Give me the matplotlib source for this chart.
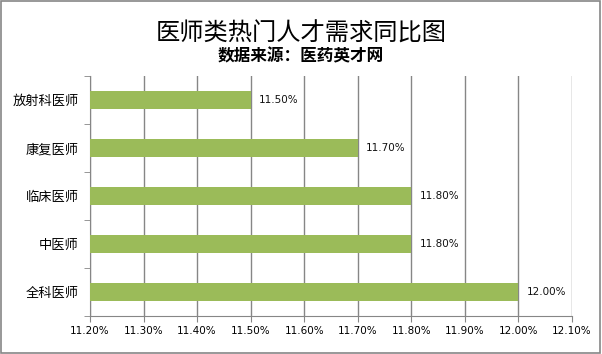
import matplotlib.pyplot as plt
from matplotlib.ticker import FixedLocator, PercentFormatter
from matplotlib.patches import Rectangle

plt.rcParams['font.family'] = ['Noto Sans CJK SC', 'DejaVu Sans']

categories = ["全科医师", "中医师", "临床医师", "康复医师", "放射科医师"]
values = [12.0, 11.8, 11.8, 11.7, 11.5]
xticks = [11.2, 11.3, 11.4, 11.5, 11.6, 11.7, 11.8, 11.9, 12.0, 12.1]

fig = plt.figure(figsize=(6.02, 3.54), dpi=100)
ax = fig.add_axes([0.1495, 0.107, 0.8005, 0.678])

pos = range(len(categories))
ax.barh(pos, [v - 11.2 for v in values], left=11.2, height=0.38,
        color="#9BBB59", zorder=3)
for p, v in zip(pos, values):
    ax.text(v + 0.016, p, f"{v:.2f}%", va="center", ha="left", fontsize=7.5,
            family="DejaVu Sans", color="#111111")

ax.set_xlim(11.2, 12.1)
ax.set_ylim(-0.5, len(categories) - 0.5)
ax.set_xticks(xticks)
ax.xaxis.set_major_formatter(PercentFormatter(decimals=2))
ax.set_yticks(list(pos))
ax.set_yticklabels(categories, fontsize=9.5)
ax.yaxis.set_minor_locator(FixedLocator([i - 0.5 for i in range(len(categories) + 1)]))
ax.tick_params(axis='y', which='major', length=0, pad=8)
ax.tick_params(axis='y', which='minor', length=4, color="#868686")
ax.tick_params(axis='x', length=4, color="#868686", labelsize=7.5, pad=3)
for lbl in ax.get_xticklabels():
    lbl.set_family("DejaVu Sans")

ax.grid(axis='x', color="#868686", linewidth=1, zorder=0)
for side in ["top", "right"]:
    ax.spines[side].set_visible(False)
for side in ["left", "bottom"]:
    ax.spines[side].set_color("#868686")

fig.text(0.5, 0.905, "医师类热门人才需求同比图", ha="center", va="center", fontsize=17.5)
fig.text(0.5, 0.84, "数据来源：医药英才网", ha="center", va="center", fontsize=12, fontweight="bold")

fig.patches.append(Rectangle((0.002, 0.003), 0.995, 0.993, transform=fig.transFigure,
                             fill=False, edgecolor="#868686", linewidth=1.2))

fig.savefig("out.png", dpi=100)
